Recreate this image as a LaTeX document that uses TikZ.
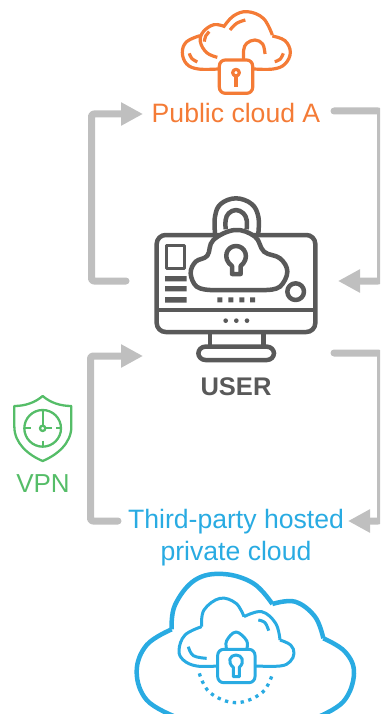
\documentclass[tikz,border=0pt]{standalone}
\usepackage{fontspec}
\setmainfont{Liberation Sans}
\usetikzlibrary{arrows.meta}
\definecolor{orng}{HTML}{F47B36}
\definecolor{blu}{HTML}{29ABE2}
\definecolor{grn}{HTML}{55BD68}
\definecolor{drk}{HTML}{595959}
\definecolor{lgr}{HTML}{BFBFBF}
\tikzset{
 conn/.style={draw=lgr,line width=7pt,rounded corners=2.5pt,line cap=round,-{Triangle[length=22pt,width=22pt,fill=lgr]}},
 label/.style={font=\fontsize{26.6}{32}\selectfont,align=center,inner sep=0pt},
 cur/.style={smooth,tension=0.65},
}
\begin{document}
\begin{tikzpicture}[x=1pt,y=-1pt,line cap=butt,line join=round]
\useasboundingbox (0,0) rectangle (380,714);
\clip (0,0) rectangle (380,714);
% ---------- connectors
\node[label,text=orng] (pub) at (236,113) {Public cloud A};
\node[label,text=blu] (third) at (236,538) {Third-party hosted\\private cloud};
\node[label,text=grn,font=\fontsize{26}{32}\selectfont] (vpn) at (43,484) {VPN};
\node[label,text=drk,font=\fontsize{25.5}{30}\selectfont\bfseries] (user) at (236,387) {USER};
\coordinate (a1) at (126,281); \coordinate (a2) at (91.5,281); \coordinate (a3) at (91.5,114); \coordinate (a4) at (143,114);
\coordinate (b1) at (334,111); \coordinate (b2) at (380.5,111); \coordinate (b3) at (380.5,281); \coordinate (b4) at (338,281);
\coordinate (c1) at (118,521); \coordinate (c2) at (90.5,521); \coordinate (c3) at (90.5,356); \coordinate (c4) at (143,356);
\coordinate (d1) at (334,353); \coordinate (d2) at (380.5,353); \coordinate (d3) at (380.5,521); \coordinate (d4) at (348,521);
\draw[conn] (a1) -- (a2) -- (a3) -- (a4);
\draw[conn] (b1) -- (b2) -- (b3) -- (b4);
\draw[conn] (c1) -- (c2) -- (c3) -- (c4);
\draw[conn] (d1) -- (d2) -- (d3) -- (d4);
% ---------- orange cloud
\begin{scope}[shift={(140,0)},scale=1/3,draw=orng,line width=3.2pt]
\draw plot[cur] coordinates {(235,207) (175,207) (140,192) (127,157) (140,125) (180,107)};
\draw plot[cur] coordinates {(232,172) (200,158) (181,125) (190,95) (222,74) (255,80)};
\draw plot[cur] coordinates {(250,82) (280,48) (322,35) (370,55) (397,105)};
\draw plot[cur] coordinates {(397,108) (435,122) (451,157) (435,192) (400,207) (342,207)};
\draw[rounded corners=6pt] (238,180) rectangle (338,280);
\draw plot[cur] coordinates {(311,178) (311,150) (320,130) (345,120) (368,132) (375,162)};
\draw (288,218) circle (10);
\draw (288,229) -- (288,260);
\draw plot[cur] coordinates {(148,160) (155,175) (172,186)};
\draw plot[cur] coordinates {(193,125) (197,108) (208,95)};
\draw plot[cur] coordinates {(270,90) (290,70) (316,60)};
\draw plot[cur] coordinates {(404,185) (420,178) (430,160)};
\end{scope}
% ---------- monitor
\begin{scope}[shift={(130,190)},scale=1/3,draw=drk,line width=4.5pt]
\draw[rounded corners=9pt] (80,135) rectangle (556,426);
\draw (80,360) -- (556,360);
\draw plot[cur] coordinates {(255,130) (255,80) (272,42) (318,25) (365,42) (385,80) (385,130)};
\draw plot[cur] coordinates {(287,118) (287,90) (296,70) (318,60) (340,70) (350,90) (350,118)};
\draw[fill=white] plot[cur] coordinates {(240,300) (200,290) (182,250) (197,215) (232,197) (250,150) (315,120) (375,140) (402,185) (450,205) (472,245) (450,290) (410,300)} -- cycle;
\draw (306,252) -- (306,228) .. controls (275,205) and (290,168) .. (318,168) .. controls (346,168) and (361,205) .. (332,228) -- (332,252) -- cycle;
\draw[line width=3.5pt] (110,167) rectangle (163,235);
\fill[drk] (105,258) rectangle (170,274) (105,288) rectangle (170,304) (105,321) rectangle (170,338);
\fill[drk] (262,322) rectangle +(15,15) (295,322) rectangle +(15,15) (328,322) rectangle +(15,15) (360,322) rectangle +(15,15);
\draw (497,305) circle (25);
\fill[drk] (287,392) circle (7) (319,392) circle (7) (351,392) circle (7);
\draw (240,428) -- (240,470) (400,428) -- (400,470);
\draw[rounded corners=7pt] (205,470) rectangle (432,510);
\end{scope}
% ---------- shield
\begin{scope}[shift={(0,390)},scale=1/3,draw=grn,line width=2.3pt]
\draw (128,18) .. controls (105,38) and (75,48) .. (43,48) -- (43,110) .. controls (43,160) and (85,195) .. (128,213) .. controls (171,195) and (214,160) .. (214,110) -- (214,48) .. controls (181,48) and (151,38) .. (128,18) -- cycle;
\draw (128,115) circle (55);
\draw (128,115) circle (8);
\draw (128,107) -- (128,62) (136,115) -- (156,115);
\draw (76,115) -- (92,115) (168,115) -- (184,115) (128,152) -- (128,170);
\end{scope}
% ---------- blue cloud
\begin{scope}[shift={(130,570)},scale=1/3,draw=blu]
\begin{scope}[line width=4.5pt]
\draw plot[cur] coordinates {(125,178) (50,225) (20,305) (50,390) (135,440)};
\draw plot[cur] coordinates {(125,178) (135,105) (195,30) (280,12) (370,40) (427,102)};
\draw plot[cur] coordinates {(427,102) (495,95) (555,140) (580,205)};
\draw plot[cur] coordinates {(580,205) (645,245) (672,310) (640,395) (555,445)};
\end{scope}
\begin{scope}[line width=3pt]
\draw plot[cur] coordinates {(263,288) (200,288) (160,270) (147,240) (165,195) (215,170)};
\draw plot[cur] coordinates {(215,170) (222,120) (270,85) (318,100) (342,140)};
\draw plot[cur] coordinates {(342,140) (395,125) (437,160) (450,210)};
\draw plot[cur] coordinates {(450,210) (482,225) (492,250) (480,275) (450,288) (375,288)};
\draw[rounded corners=6pt] (263,238) rectangle (375,338);
\draw plot[cur] coordinates {(290,238) (290,212) (318,186) (350,212) (350,238)};
\draw (310,320) -- (310,292) .. controls (290,275) and (300,255) .. (318,255) .. controls (336,255) and (346,275) .. (328,292) -- (328,320) -- cycle;
\draw plot[cur] coordinates {(175,230) (190,257) (230,265)};
\draw plot[cur] coordinates {(385,150) (405,158) (416,182)};
\end{scope}
\draw[line width=3.3pt,dash pattern=on 3.3pt off 4.6pt] plot[cur] coordinates {(208,310) (240,368) (318,398) (396,368) (428,310)};
\end{scope}
\end{tikzpicture}
\end{document}
